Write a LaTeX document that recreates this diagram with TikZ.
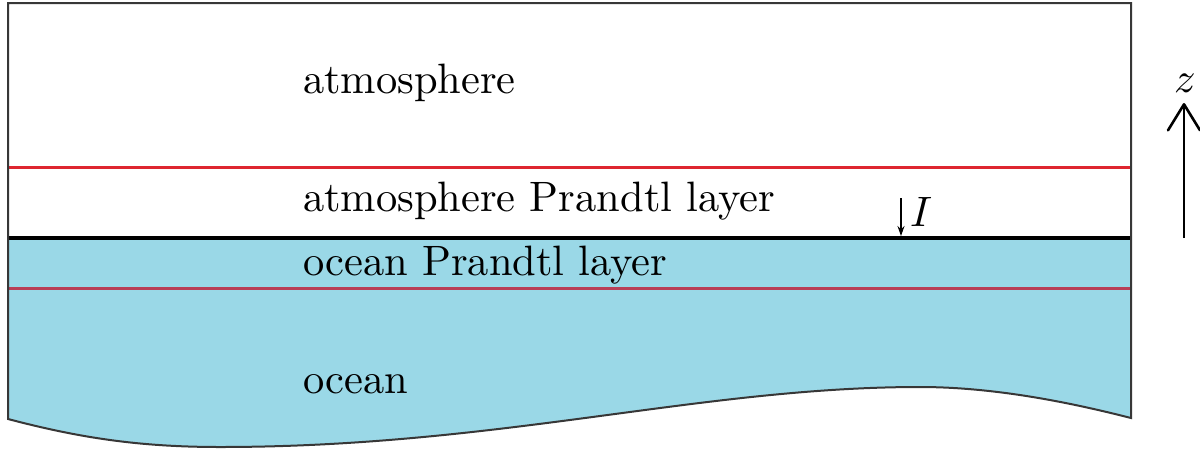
\documentclass[tikz,border=0pt]{standalone}
\usepackage{graphicx}
\usetikzlibrary{arrows.meta}
\definecolor{oceanblue}{RGB}{154,216,231}
\definecolor{bordergray}{RGB}{55,55,55}
\definecolor{redline}{RGB}{222,38,48}
\definecolor{redline2}{RGB}{185,62,86}
\newcommand{\bigtxt}[1]{\scalebox{4.25}{#1}}
\tikzset{
  lbl/.style={anchor=base west, inner sep=0pt, outer sep=0pt},
  border/.style={draw=bordergray, line width=2pt, line join=miter},
  layerline/.style={line width=3pt},
}
\begin{document}
\begin{tikzpicture}[x=1pt,y=-1pt]
\useasboundingbox (0,0) rectangle (1200,448);
% ocean fill
\fill[oceanblue] (8,238) -- (1131,238) -- (1131,418)
  .. controls (1080,405) and (1000,387) .. (920,387)
  .. controls (700,387) and (500,447) .. (220,447)
  .. controls (140,447) and (80,438) .. (8,419) -- cycle;
% layer lines
\draw[layerline, redline] (8,167) -- (1131,167);
\draw[layerline, redline2] (8,288) -- (1131,288);
\draw[line width=3.5pt, black] (8,238) -- (1131,238);
% outer border
\draw[border] (8,3) -- (1131,3) -- (1131,418)
  .. controls (1080,405) and (1000,387) .. (920,387)
  .. controls (700,387) and (500,447) .. (220,447)
  .. controls (140,447) and (80,438) .. (8,419) -- cycle;
% labels
\node[lbl] (atm) at (303,93) {\bigtxt{atmosphere}};
\node[lbl] (atmp) at (303,211) {\bigtxt{atmosphere Prandtl layer}};
\node[lbl] (ocp) at (303,275) {\bigtxt{ocean Prandtl layer}};
\node[lbl] (oc) at (303,393) {\bigtxt{ocean}};
% interface arrow I
\coordinate (itop) at (901,198);
\coordinate (ibot) at (901,236);
\draw[line width=1.2pt, -{Stealth[length=10pt,width=7pt]}] (itop) -- (ibot);
\node[lbl] (ilab) at (910,226) {\bigtxt{$I$}};
% z axis arrow
\coordinate (zbot) at (1184,238);
\coordinate (ztop) at (1184,103);
\draw[line width=2.8pt, -{Straight Barb[length=26pt,width=32pt,line width=2.6pt,round]}] (zbot) -- (ztop);
\node[anchor=base, inner sep=0pt] (zlab) at (1185,92) {\bigtxt{$z$}};
\end{tikzpicture}
\end{document}
